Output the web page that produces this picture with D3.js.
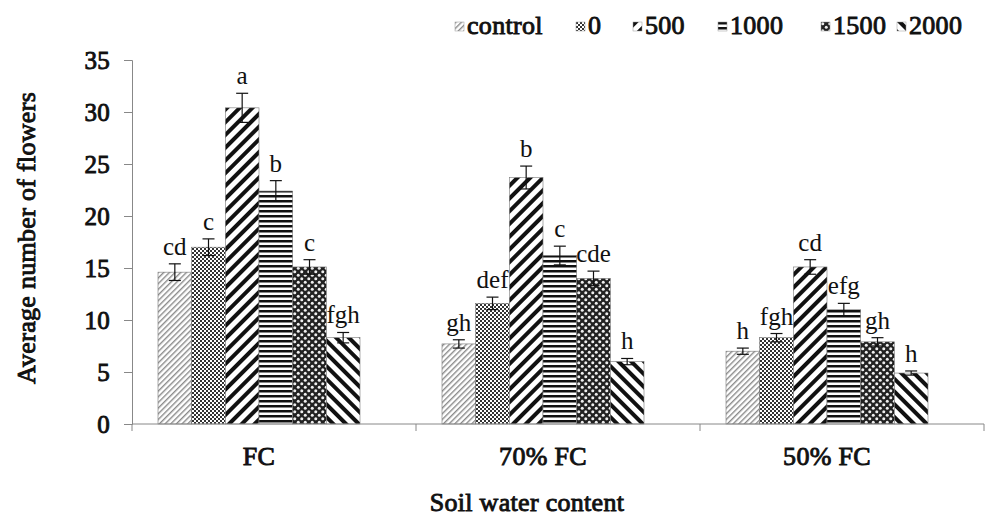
<!DOCTYPE html>
<html>
<head>
<meta charset="utf-8">
<script src="https://cdn.jsdelivr.net/npm/d3@7"></script>
<style>
  body { margin: 0; background: #fff; }
  svg text { font-family: "Liberation Serif", "DejaVu Serif", serif; }
  svg text.bold { stroke: #111; stroke-width: 0.9px; fill: #111; letter-spacing: 0.3px; }
</style>
</head>
<body>
<div id="card"></div>
<script>
// chart data
const groups = ["FC", "70% FC", "50% FC"];
const series = ["control", "0", "500", "1000", "1500", "2000"];
const means = [
  [14.6, 17.0, 30.4, 22.4, 15.1, 8.3],
  [7.7, 11.6, 23.7, 16.2, 14.0, 6.0],
  [7.0, 8.3, 15.1, 11.0, 7.9, 4.9]
];
const errors = [
  [0.8, 0.8, 1.4, 1.0, 0.7, 0.5],
  [0.4, 0.6, 1.1, 0.9, 0.7, 0.3],
  [0.3, 0.4, 0.7, 0.6, 0.4, 0.2]
];
const letters = [
  ["cd", "c", "a", "b", "c", "fgh"],
  ["gh", "def", "b", "c", "cde", "h"],
  ["h", "fgh", "cd", "efg", "gh", "h"]
];
const yTicks = [0, 5, 10, 15, 20, 25, 30, 35];

const w = 986, h = 520;
const margin = {top: 60, right: 2, bottom: 96, left: 132};
const width = w - margin.left - margin.right;
const height = h - margin.top - margin.bottom;

const svg = d3.select("#card").append("svg")
  .attr("width", w).attr("height", h);

//patterns for each series
const defs = svg.append("defs");
function pat(id, size, angle){
  const p = defs.append("pattern").attr("id", id)
    .attr("patternUnits", "userSpaceOnUse")
    .attr("width", size).attr("height", size);
  if (angle) p.attr("patternTransform", "rotate(" + angle + ")");
  p.append("rect").attr("width", size).attr("height", size).attr("fill", "#fff");
  return p;
}
// control: thin light diagonal
pat("p0", 4, 45).append("rect").attr("width", 1.4).attr("height", 4).attr("fill", "#8a8a8a");
// 0: fine checkerboard
let p1 = pat("p1", 4, 0);
p1.append("rect").attr("width", 2).attr("height", 2).attr("fill", "#333");
p1.append("rect").attr("x", 2).attr("y", 2).attr("width", 2).attr("height", 2).attr("fill", "#333");
// 500: wide diagonal /
pat("p2", 9, 45).append("rect").attr("width", 4).attr("height", 9).attr("fill", "#111");
// 1000: horizontal
pat("p3", 5, 0).append("rect").attr("width", 5).attr("height", 2.5).attr("fill", "#111");
// 1500: dots
let p4 = defs.append("pattern").attr("id", "p4")
  .attr("patternUnits", "userSpaceOnUse").attr("width", 7).attr("height", 7);
p4.append("rect").attr("width", 7).attr("height", 7).attr("fill", "#222");
p4.append("circle").attr("cx", 1.75).attr("cy", 1.75).attr("r", 1.5).attr("fill", "#eee");
p4.append("circle").attr("cx", 5.25).attr("cy", 5.25).attr("r", 1.5).attr("fill", "#eee");
// 2000: diagonal \
pat("p5", 9, -45).append("rect").attr("width", 4).attr("height", 9).attr("fill", "#111");

const chart = svg.append("g")
  .attr("transform", "translate(" + margin.left + "," + margin.top + ")");

const x0 = d3.scaleBand().domain(groups).range([0, width]).paddingInner(0).paddingOuter(0);
const x1 = d3.scaleBand().domain(series).range([26, x0.bandwidth() - 56]);
const y = d3.scaleLinear().domain([0, 35]).range([height, 0]);

//y axis
const yAxis = chart.append("g").call(d3.axisLeft(y).tickValues(yTicks).tickSize(8).tickPadding(14));
yAxis.select(".domain").attr("stroke", "#888");
yAxis.selectAll(".tick line").attr("stroke", "#888");
yAxis.selectAll("text").classed("bold", true).style("font-size", "25px").attr("dy", "0.34em");

//bars
const grp = chart.selectAll(".grp").data(groups).enter().append("g")
  .attr("transform", d => "translate(" + x0(d) + ",0)");

grp.each(function(g, gi){
  const sel = d3.select(this);
  series.forEach((s, si) => {
    const v = means[gi][si], e = errors[gi][si];
    const bx = x1(s), bw = x1.bandwidth();
    sel.append("rect")
      .attr("x", bx).attr("y", y(v))
      .attr("width", bw).attr("height", height - y(v))
      .attr("fill", "url(#p" + si + ")")
      .attr("stroke", "#777").attr("stroke-width", 0.6);
    const cx = bx + bw / 2;
    sel.append("line").attr("x1", cx).attr("x2", cx)
      .attr("y1", y(v - e)).attr("y2", y(v + e))
      .attr("stroke", "#111").attr("stroke-width", 1.2);
    [v - e, v + e].forEach(t => {
      sel.append("line").attr("x1", cx - 6).attr("x2", cx + 6)
        .attr("y1", y(t)).attr("y2", y(t))
        .attr("stroke", "#111").attr("stroke-width", 1.2);
    });
    sel.append("text").attr("x", cx).attr("y", y(v + e) - 9)
      .attr("text-anchor", "middle").style("font-size", "25px").attr("fill", "#111")
      .text(letters[gi][si]);
  });
});

//x axis
const xAxis = chart.append("g").attr("transform", "translate(0," + height + ")");
xAxis.append("line").attr("x1", 0).attr("x2", width).attr("stroke", "#888");
[0, 1, 2, 3].forEach(i => {
  const xx = i * x0.bandwidth();
  xAxis.append("line").attr("x1", xx).attr("x2", xx).attr("y1", 0).attr("y2", 7).attr("stroke", "#888");
});
xAxis.selectAll(".lbl").data(groups).enter().append("text")
  .classed("bold", true)
  .attr("x", d => x0(d) + x1.range()[0] + (x1.range()[1] - x1.range()[0]) / 2)
  .attr("y", 41).attr("text-anchor", "middle")
  .style("font-size", "26px")
  .text(d => d);

//axis titles
svg.append("text").classed("bold", true).attr("x", 527).attr("y", 511).attr("text-anchor", "middle")
  .style("font-size", "26px")
  .text("Soil water content");
svg.append("text").classed("bold", true)
  .attr("transform", "translate(35,238) rotate(-90)")
  .attr("text-anchor", "middle")
  .style("font-size", "26px")
  .text("Average number  of flowers");

//legend
const legX = [455, 576, 633, 718, 821, 897];
const leg = svg.selectAll(".leg").data(series).enter().append("g")
  .attr("transform", (d, i) => "translate(" + legX[i] + ",22)");
leg.append("rect").attr("width", 9).attr("height", 9)
  .attr("fill", (d, i) => "url(#p" + i + ")").attr("stroke", "#999").attr("stroke-width", 0.5);
leg.append("text").classed("bold", true).attr("x", 12).attr("y", 12)
  .style("font-size", "26px")
  .text(d => d);
</script>
</body>
</html>
